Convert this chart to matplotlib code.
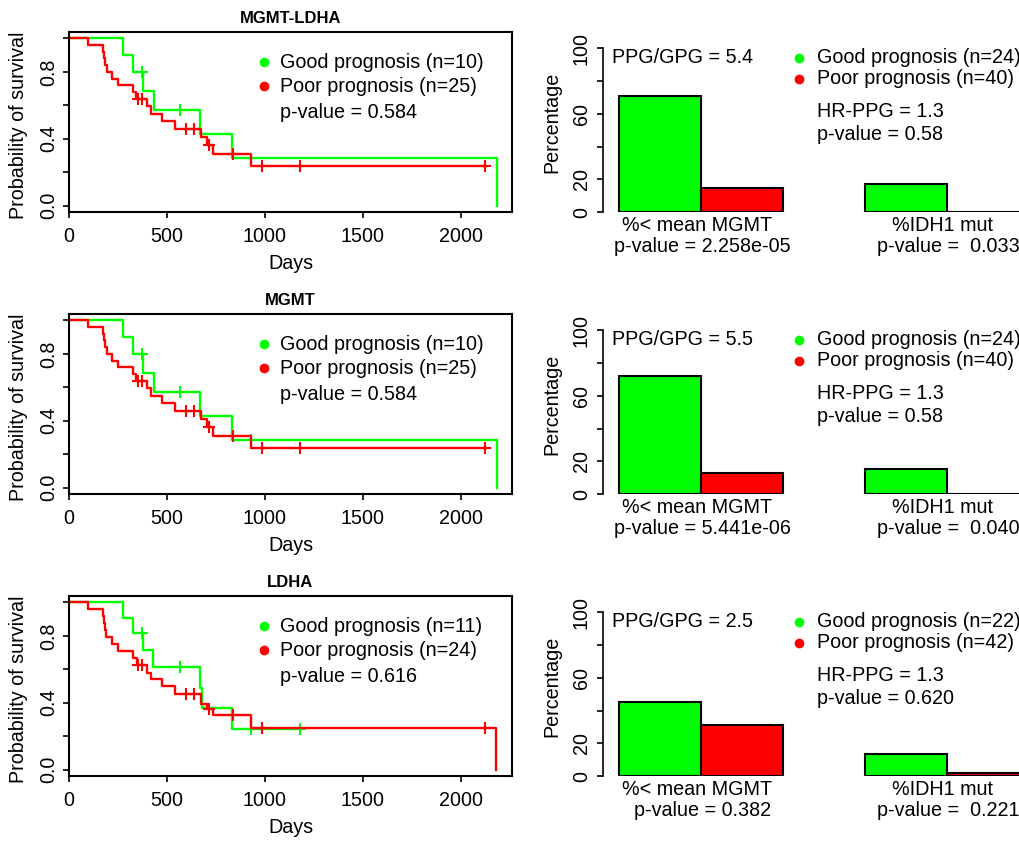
#!/usr/bin/env python3
# -*- coding: utf-8 -*-
"""
survival curves (left) and group percentages (right) for MGMT-LDHA, MGMT, LDHA
"""
import matplotlib
matplotlib.use('Agg')
import matplotlib.pyplot as plt
import numpy as np

plt.rcParams['font.family'] = ['Liberation Sans', 'DejaVu Sans']
plt.rcParams['font.size'] = 14.2

GREEN = '#00ff00'
RED = '#ff0000'

titles = ['MGMT-LDHA', 'MGMT', 'LDHA']

# Kaplan-Meier steps (days, survival)
mgmt_ldha_good_t = [0, 277, 328, 378, 434, 668, 833, 2185]
mgmt_ldha_good_s = [1.0, 0.9, 0.8, 0.686, 0.571, 0.429, 0.286, 0.0]
mgmt_ldha_good_cens = [375, 566]
mgmt_ldha_poor_t = [0, 95, 175, 180, 185, 192, 218, 252, 328, 340, 396, 418, 473, 541, 672, 705, 736, 929, 2130]
mgmt_ldha_poor_s = [1.0, 0.96, 0.92, 0.88, 0.84, 0.80, 0.76, 0.72, 0.68, 0.64, 0.594, 0.549, 0.503, 0.457, 0.41, 0.36, 0.31, 0.237, 0.237]
mgmt_ldha_poor_cens = [352, 372, 597, 640, 714, 838, 986, 1179, 2126]

mgmt_good_t = [0, 277, 328, 378, 434, 668, 833, 2185]
mgmt_good_s = [1.0, 0.9, 0.8, 0.686, 0.571, 0.429, 0.286, 0.0]
mgmt_good_cens = [375, 566, 929]
mgmt_poor_t = [0, 95, 175, 180, 185, 192, 218, 252, 328, 340, 396, 418, 473, 541, 672, 705, 736, 929, 2130]
mgmt_poor_s = [1.0, 0.96, 0.92, 0.88, 0.84, 0.80, 0.76, 0.72, 0.68, 0.64, 0.594, 0.549, 0.503, 0.457, 0.41, 0.36, 0.31, 0.237, 0.237]
mgmt_poor_cens = [352, 372, 597, 640, 714, 838, 986, 1179, 2126]

ldha_good_t = [0, 277, 328, 378, 430, 670, 680, 830, 1179]
ldha_good_s = [1.0, 0.909, 0.818, 0.716, 0.614, 0.491, 0.368, 0.245, 0.245]
ldha_good_cens = [375, 566, 929, 1179]
ldha_poor_t = [0, 95, 175, 180, 185, 190, 218, 252, 328, 345, 396, 418, 473, 541, 672, 705, 736, 929, 2182]
ldha_poor_s = [1.0, 0.958, 0.917, 0.875, 0.833, 0.792, 0.75, 0.708, 0.667, 0.625, 0.577, 0.54, 0.50, 0.45, 0.39, 0.36, 0.326, 0.246, 0.0]
ldha_poor_cens = [352, 372, 597, 640, 714, 838, 986, 2126]

km_n_good = [10, 10, 11]
km_n_poor = [25, 25, 24]
km_pvals = ['0.584', '0.584', '0.616']

# bar panels: [%< mean MGMT, %IDH1 mut]
bar_good = [[70.8, 17.0], [72.0, 15.5], [45.0, 13.8]]
bar_poor = [[14.6, 0.0], [13.0, 0.0], [31.2, 2.2]]
bar_names = ['%< mean MGMT', '%IDH1 mut']
ratios = ['5.4', '5.5', '2.5']
bar_n_good = [24, 24, 22]
bar_n_poor = [40, 40, 42]
hr_vals = ['1.3', '1.3', '1.3']
hr_pvals = ['0.58', '0.58', '0.620']
mgmt_pvals = ['2.258e-05', '5.441e-06', '0.382']
idh_pvals = ['0.033', '0.040', '0.221']

km_data = [
    (mgmt_ldha_good_t, mgmt_ldha_good_s, mgmt_ldha_good_cens, mgmt_ldha_poor_t, mgmt_ldha_poor_s, mgmt_ldha_poor_cens),
    (mgmt_good_t, mgmt_good_s, mgmt_good_cens, mgmt_poor_t, mgmt_poor_s, mgmt_poor_cens),
    (ldha_good_t, ldha_good_s, ldha_good_cens, ldha_poor_t, ldha_poor_s, ldha_poor_cens),
]

W, H = 1020, 842


def px_rect(left, top, w, h):
    return [left / W, 1 - (top + h) / H, w / W, h / H]


def level_at(t, s, c):
    idx = np.searchsorted(t, c, side='right') - 1
    return np.asarray(s)[idx]


def draw_km(ax, i):
    gt, gs, gc, pt, ps, pc = km_data[i]
    for t, s, c, col in [(gt, gs, gc, GREEN), (pt, ps, pc, RED)]:
        ax.step(t, s, where='post', color=col, lw=1.7)
        ax.plot(c, level_at(t, s, c), '+', color=col, ms=9, mew=1.5, ls='none')
    ax.set_xlim(0, 2262)
    ax.set_ylim(-0.04, 1.04)
    ax.set_xticks([0, 500, 1000, 1500, 2000])
    ax.set_yticks([0, 0.2, 0.4, 0.6, 0.8, 1.0])
    ax.set_yticklabels(['0.0', '', '0.4', '', '0.8', ''], rotation=90, va='center')
    ax.tick_params(axis='x', direction='out', length=4, width=1.2, pad=6.5)
    ax.tick_params(axis='y', direction='out', length=4, width=1.2, pad=3.5)
    for sp in ax.spines.values():
        sp.set_linewidth(1.5)
    ax.set_title(titles[i], fontweight='bold', fontsize=12, pad=6)
    ax.set_xlabel('Days')
    ax.xaxis.set_label_coords(0.5, -0.285)
    ax.xaxis.label.set_va('center')
    ax.set_ylabel('Probability of survival')
    ax.yaxis.set_label_coords(-0.115, 0.48)
    ax.yaxis.label.set_va('center')

    ax.plot([995], [0.856], 'o', color=GREEN, ms=6)
    ax.plot([995], [0.713], 'o', color=RED, ms=6)
    ax.text(1077, 0.856, f'Good prognosis (n={km_n_good[i]})', va='center')
    ax.text(1077, 0.713, f'Poor prognosis (n={km_n_poor[i]})', va='center')
    ax.text(1077, 0.558, f'p-value = {km_pvals[i]}', va='center')


def draw_bar(ax, i):
    centers = np.array([2.0, 5.0])
    ax.bar(centers - 0.5, bar_good[i], width=1, color=GREEN, edgecolor='black', lw=1.5)
    ax.bar(centers + 0.5, bar_poor[i], width=1, color=RED, edgecolor='black', lw=1.5)
    ax.set_xlim(0.8, 6.2)
    ax.set_ylim(0, 110)
    for side in ['top', 'right', 'bottom']:
        ax.spines[side].set_visible(False)
    ax.spines['left'].set_bounds(0, 100)
    ax.spines['left'].set_linewidth(1.2)
    ax.set_xticks([])
    ax.set_yticks([0, 20, 40, 60, 80, 100])
    ax.set_yticklabels(['0', '20', '', '60', '', '100'], rotation=90, va='center')
    ax.tick_params(axis='y', direction='out', length=4, width=1.2, pad=4.5)
    ax.set_ylabel('Percentage')
    ax.yaxis.set_label_coords(-0.115, 0.5)
    ax.yaxis.label.set_va('center')

    ax.text(0.91, 94, f'PPG/GPG = {ratios[i]}', va='center')
    ax.plot([3.2], [94], 'o', color=GREEN, ms=6)
    ax.plot([3.2], [81.2], 'o', color=RED, ms=6)
    ax.text(3.41, 94, f'Good prognosis (n={bar_n_good[i]})', va='center')
    ax.text(3.41, 81.2, f'Poor prognosis (n={bar_n_poor[i]})', va='center')
    ax.text(3.41, 61.6, f'HR-PPG = {hr_vals[i]}', va='center')
    ax.text(3.41, 47.5, f'p-value = {hr_pvals[i]}', va='center')

    for c, name, p in zip(centers, bar_names, [f'p-value = {mgmt_pvals[i]}', f'p-value =  {idh_pvals[i]}']):
        ax.text(c - 0.05, -8.3, name, ha='center', va='center', clip_on=False)
        ax.text(c + 0.02, -20.8, p, ha='center', va='center', clip_on=False)


fig = plt.figure(figsize=(W / 100, H / 100), dpi=100)
for i in range(3):
    top = 31.7 + 282 * i
    ax_km = fig.add_axes(px_rect(69, top, 443, 180.6))
    draw_km(ax_km, i)
    ax_bar = fig.add_axes(px_rect(602.6, top, 442.8, 180.6))
    draw_bar(ax_bar, i)

fig.savefig('out.png', dpi=100)
